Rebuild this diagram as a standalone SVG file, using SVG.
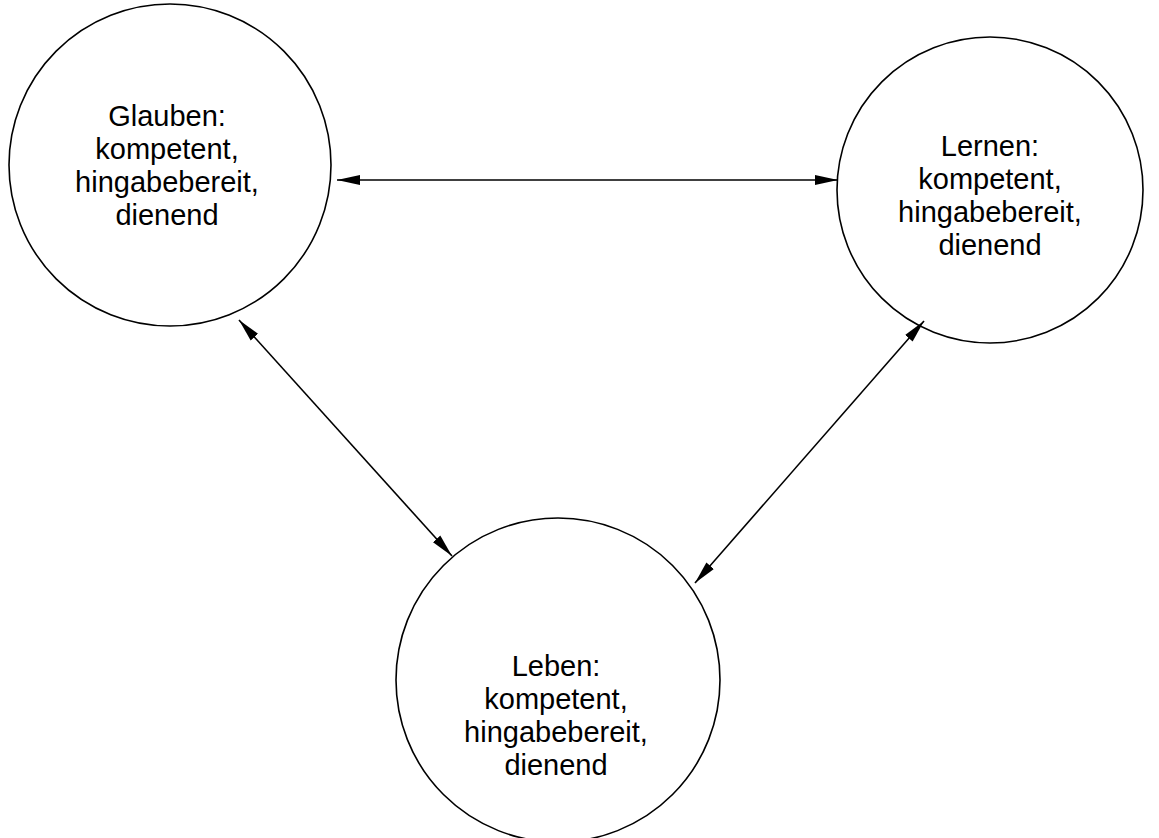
<svg xmlns="http://www.w3.org/2000/svg" width="1159" height="838" viewBox="0 0 1159 838">
<style>
.node circle { fill: #ffffff; stroke: #000000; stroke-width: 1.6; }
.node text { font-family: "Liberation Sans", Arial, sans-serif; font-size: 29px; fill: #000000; text-anchor: middle; }
.conn line { stroke: #000000; stroke-width: 1.6; marker-start: url(#ah); marker-end: url(#ah); }
</style>
<defs>
<marker id="ah" markerUnits="userSpaceOnUse" markerWidth="24" markerHeight="12" refX="23" refY="5" orient="auto-start-reverse" viewBox="0 0 24 10">
<path d="M0,0 L23,5 L0,10 Z" fill="#000000"/>
</marker>
</defs>
<rect width="1159" height="838" fill="#ffffff"/>
<g id="glauben" class="node">
<circle cx="170" cy="165" r="161"/>
<text x="167" y="126">Glauben:</text>
<text x="167" y="159">kompetent,</text>
<text x="167" y="192">hingabebereit,</text>
<text x="167" y="225">dienend</text>
</g>
<g id="lernen" class="node">
<circle cx="990" cy="190" r="153"/>
<text x="990" y="156">Lernen:</text>
<text x="990" y="189">kompetent,</text>
<text x="990" y="222">hingabebereit,</text>
<text x="990" y="255">dienend</text>
</g>
<g id="leben" class="node">
<circle cx="558" cy="680" r="162"/>
<text x="556" y="676">Leben:</text>
<text x="556" y="709">kompetent,</text>
<text x="556" y="742">hingabebereit,</text>
<text x="556" y="775">dienend</text>
</g>
<g id="connectors" class="conn">
<line x1="337" y1="180" x2="838" y2="180"/>
<line x1="239" y1="320" x2="452" y2="556"/>
<line x1="924" y1="321" x2="695" y2="583"/>
</g>
</svg>
